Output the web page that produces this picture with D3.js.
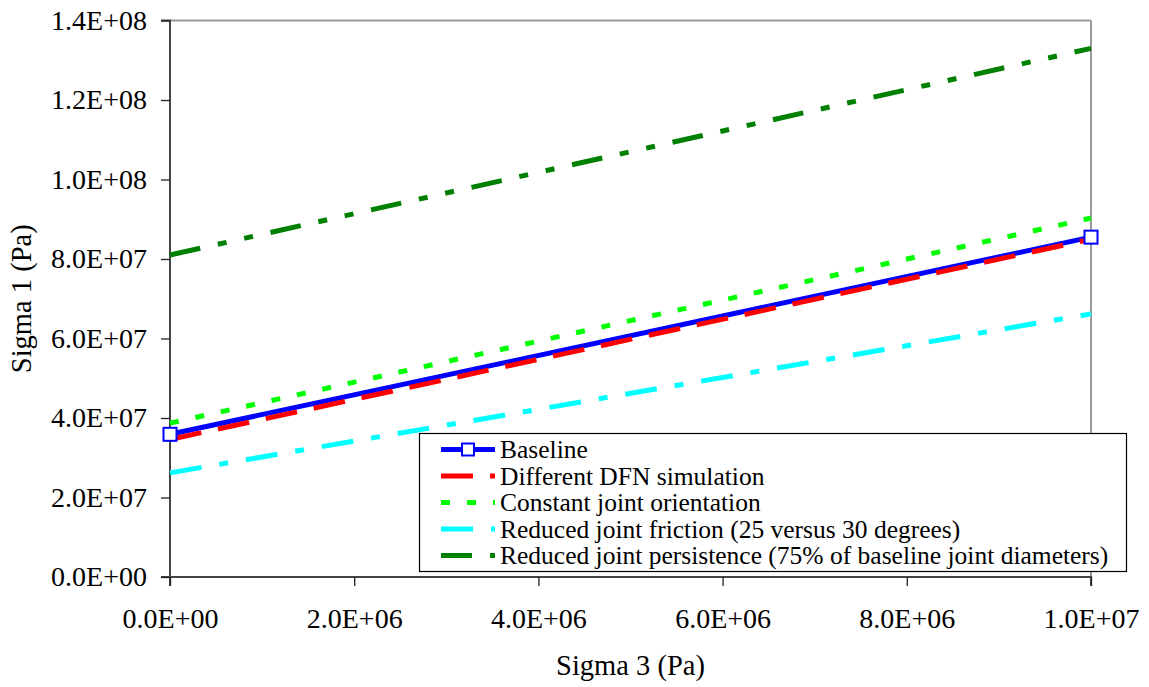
<!DOCTYPE html>
<html>
<head>
<meta charset="utf-8">
<script src="https://cdn.jsdelivr.net/npm/d3@7"></script>
<style>
  html, body { margin: 0; padding: 0; background: #fff; }
  svg text { font-family: "Liberation Serif", "Times New Roman", serif; fill: #000; }
</style>
</head>
<body>
<svg id="chart" width="1149" height="687"></svg>
<script>
// ---- data ----
const sigma3 = [0, 1e7];
const baseline = [3.59e7, 8.55e7];
const differentDFN = [3.46e7, 8.50e7];
const constantOrientation = [3.87e7, 9.03e7];
const reducedFriction = [2.62e7, 6.62e7];
const reducedPersistence = [8.10e7, 1.33e8];
const seriesNames = [
  "Baseline",
  "Different DFN simulation",
  "Constant joint orientation",
  "Reduced joint friction (25 versus 30 degrees)",
  "Reduced joint persistence (75% of baseline joint diameters)"
];
const xTicks = [0, 2e6, 4e6, 6e6, 8e6, 1e7];
const yTicks = [0, 2e7, 4e7, 6e7, 8e7, 1e8, 1.2e8, 1.4e8];
const xTitle = "Sigma 3 (Pa)";
const yTitle = "Sigma 1 (Pa)";

// ---- styles ----
const FONT = '"Liberation Serif", "Times New Roman", serif';
const styles = [
  { color: "#0000ff", dash: null, marker: true },
  { color: "#ff0000", dash: "32,17" },
  { color: "#00ff00", dash: "9,17" },
  { color: "#00ffff", dash: "32,18,9,18" },
  { color: "#008000", dash: "31,18,9,18,9,18" }
];
const allValues = [baseline, differentDFN, constantOrientation, reducedFriction, reducedPersistence];
const series = seriesNames.map((n, i) => ({
  name: n,
  pts: sigma3.map((x, j) => ({ x, y: allValues[i][j] })),
  ...styles[i]
}));

const svg = d3.select("#chart");
const L = 170, R = 1091, T = 20.5, B = 577;
const x = d3.scaleLinear().domain([0, 1e7]).range([L, R]);
const y = d3.scaleLinear().domain([0, 1.4e8]).range([B, T]);

function fmt(v) {
  if (v === 0) return "0.0E+00";
  const e = Math.floor(Math.log10(v) + 1e-9);
  const m = v / Math.pow(10, e);
  return m.toFixed(1) + "E+" + String(e).padStart(2, "0");
}

// frame (top/right grey)
svg.append("line").attr("x1", L).attr("x2", R).attr("y1", T).attr("y2", T)
  .attr("stroke", "#999").attr("stroke-width", 2);
svg.append("line").attr("x1", R).attr("x2", R).attr("y1", T).attr("y2", B)
  .attr("stroke", "#999").attr("stroke-width", 2);

// axes
const yAxis = svg.append("g").attr("transform", `translate(${L},0)`)
  .call(d3.axisLeft(y).tickValues(yTicks).tickFormat(fmt).tickSize(9).tickPadding(14));
const xAxis = svg.append("g").attr("transform", `translate(0,${B})`)
  .call(d3.axisBottom(x).tickValues(xTicks).tickFormat(fmt).tickSize(9).tickPadding(14));
[yAxis, xAxis].forEach(g => {
  g.attr("font-family", FONT).attr("font-size", 28);
  g.select(".domain").attr("stroke", "#444").attr("stroke-width", 2);
  g.selectAll(".tick line").attr("stroke", "#222").attr("stroke-width", 1.3);
  g.selectAll(".tick text").style("font-family", FONT).style("font-size", "28px").attr("fill", "#000");
});
yAxis.select(".domain").attr("d", `M-9,${T}H0V${B}H-9`);
xAxis.select(".domain").attr("d", `M${L},9V0H${R}V9`);
xAxis.selectAll(".tick text").attr("dy", "1.0em");

// titles
svg.append("text").attr("x", (L + R) / 2).attr("y", 675).attr("text-anchor", "middle")
  .style("font-family", FONT).style("font-size", "28.5px").text(xTitle);
svg.append("text").attr("transform", `translate(31,${(T + B) / 2}) rotate(-90)`)
  .attr("text-anchor", "middle").style("font-family", FONT).style("font-size", "28.5px").text(yTitle);

// lines
const line = d3.line().x(d => x(d.x)).y(d => y(d.y));
series.forEach(s => {
  svg.append("path").datum(s.pts).attr("d", line)
    .attr("fill", "none").attr("stroke", s.color).attr("stroke-width", 5)
    .attr("stroke-dasharray", s.dash);
});
// markers for baseline
svg.append("g").selectAll("rect").data(series[0].pts).join("rect")
  .attr("x", d => x(d.x) - 6.5).attr("y", d => y(d.y) - 6.5)
  .attr("width", 13).attr("height", 13)
  .attr("fill", "#fff").attr("stroke", "#0000ff").attr("stroke-width", 2);

// legend
const lg = svg.append("g");
lg.append("rect").attr("x", 419.5).attr("y", 433.5).attr("width", 707).attr("height", 138)
  .attr("fill", "#fff").attr("stroke", "#000").attr("stroke-width", 1.2);
series.forEach((s, i) => {
  const cy = 449.5 + i * 26.5;
  lg.append("line").attr("x1", 441).attr("x2", 495).attr("y1", cy).attr("y2", cy)
    .attr("stroke", s.color).attr("stroke-width", 5).attr("stroke-dasharray", s.dash);
  if (s.marker) {
    lg.append("rect").attr("x", 462).attr("y", cy - 6).attr("width", 12).attr("height", 12)
      .attr("fill", "#fff").attr("stroke", "#0000ff").attr("stroke-width", 2);
  }
  lg.append("text").attr("x", 500).attr("y", cy).attr("dy", "0.35em")
    .style("font-family", FONT).style("font-size", "25.5px").text(s.name);
});
</script>
</body>
</html>
